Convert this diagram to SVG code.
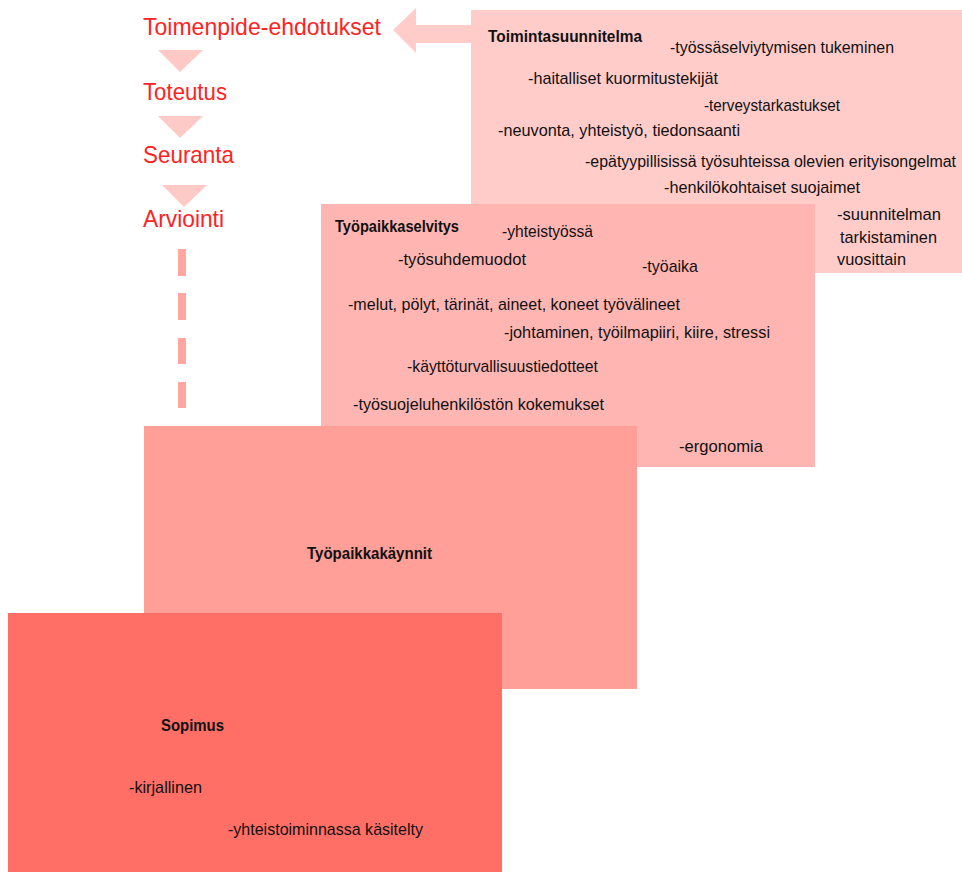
<svg xmlns="http://www.w3.org/2000/svg" width="962" height="872" viewBox="0 0 962 872">
<style>
.red{font-family:"Liberation Sans",Arial,sans-serif;font-size:24px;fill:#FF2222}
.t{font-family:"Liberation Sans",Arial,sans-serif;font-size:17px;fill:#111}
.b{font-family:"Liberation Sans",Arial,sans-serif;font-size:16.5px;font-weight:bold;fill:#111}
.tri{fill:#FFC9C5}
.dash{fill:#FFA6A0}
</style>
<rect width="962" height="872" fill="#fff"/>
<g id="toimintasuunnitelma">
<rect x="471" y="10" width="491" height="263" fill="#FFCCC9"/>
<text class="b" x="488" y="42" textLength="154" lengthAdjust="spacingAndGlyphs">Toimintasuunnitelma</text>
<text class="t" x="670" y="53" textLength="224" lengthAdjust="spacingAndGlyphs">-työssäselviytymisen tukeminen</text>
<text class="t" x="528" y="84" textLength="190" lengthAdjust="spacingAndGlyphs">-haitalliset kuormitustekijät</text>
<text class="t" x="704" y="111" textLength="136" lengthAdjust="spacingAndGlyphs">-terveystarkastukset</text>
<text class="t" x="498" y="136" textLength="242" lengthAdjust="spacingAndGlyphs">-neuvonta, yhteistyö, tiedonsaanti</text>
<text class="t" x="585" y="167" style="font-size:16px" textLength="371" lengthAdjust="spacingAndGlyphs">-epätyypillisissä työsuhteissa olevien erityisongelmat</text>
<text class="t" x="664" y="193" textLength="196" lengthAdjust="spacingAndGlyphs">-henkilökohtaiset suojaimet</text>
<text class="t" x="837" y="220" textLength="104" lengthAdjust="spacingAndGlyphs">-suunnitelman</text>
<text class="t" x="840" y="243" textLength="97" lengthAdjust="spacingAndGlyphs">tarkistaminen</text>
<text class="t" x="837" y="265" textLength="69" lengthAdjust="spacingAndGlyphs">vuosittain</text>
</g>
<g id="tyopaikkaselvitys">
<rect x="321" y="204" width="494" height="263" fill="#FFB6B2"/>
<text class="b" x="335" y="232" textLength="124" lengthAdjust="spacingAndGlyphs">Työpaikkaselvitys</text>
<text class="t" x="502" y="237" textLength="91" lengthAdjust="spacingAndGlyphs">-yhteistyössä</text>
<text class="t" x="398" y="265" textLength="128" lengthAdjust="spacingAndGlyphs">-työsuhdemuodot</text>
<text class="t" x="642" y="272" textLength="56" lengthAdjust="spacingAndGlyphs">-työaika</text>
<text class="t" x="348" y="310" textLength="332" lengthAdjust="spacingAndGlyphs">-melut, pölyt, tärinät, aineet, koneet työvälineet</text>
<text class="t" x="504" y="338" textLength="266" lengthAdjust="spacingAndGlyphs">-johtaminen, työilmapiiri, kiire, stressi</text>
<text class="t" x="407" y="372" textLength="191" lengthAdjust="spacingAndGlyphs">-käyttöturvallisuustiedotteet</text>
<text class="t" x="353" y="410" textLength="251" lengthAdjust="spacingAndGlyphs">-työsuojeluhenkilöstön kokemukset</text>
<text class="t" x="679" y="452" textLength="84" lengthAdjust="spacingAndGlyphs">-ergonomia</text>
</g>
<g id="tyopaikkakaynnit">
<rect x="144" y="426" width="493" height="263" fill="#FF9F98"/>
<text class="b" x="307" y="559" textLength="125" lengthAdjust="spacingAndGlyphs">Työpaikkakäynnit</text>
</g>
<g id="sopimus">
<rect x="8" y="613" width="494" height="259" fill="#FF6F66"/>
<text class="b" x="161" y="731" textLength="63" lengthAdjust="spacingAndGlyphs">Sopimus</text>
<text class="t" x="129" y="793" textLength="73" lengthAdjust="spacingAndGlyphs">-kirjallinen</text>
<text class="t" x="228" y="835" textLength="195" lengthAdjust="spacingAndGlyphs">-yhteistoiminnassa käsitelty</text>
</g>
<g id="process">
<text class="red" x="143" y="35" textLength="238" lengthAdjust="spacingAndGlyphs">Toimenpide-ehdotukset</text>
<text class="red" x="143" y="100" textLength="84" lengthAdjust="spacingAndGlyphs">Toteutus</text>
<text class="red" x="143" y="163" textLength="91" lengthAdjust="spacingAndGlyphs">Seuranta</text>
<text class="red" x="143" y="227" textLength="81" lengthAdjust="spacingAndGlyphs">Arviointi</text>
</g>
<g id="connectors">
<polygon points="393,30 416,8 416,25 471,25 471,43 416,43 416,53" fill="#FFCCC9"/>
<polygon class="tri" points="158,50 203,50 180,72"/>
<polygon class="tri" points="158,116 203,116 180,138"/>
<polygon class="tri" points="162,185 207,185 184,207"/>
<rect class="dash" x="178" y="249" width="8" height="27"/>
<rect class="dash" x="178" y="293" width="8" height="27"/>
<rect class="dash" x="178" y="338" width="8" height="26"/>
<rect class="dash" x="178" y="382" width="8" height="26"/>
</g>
</svg>
